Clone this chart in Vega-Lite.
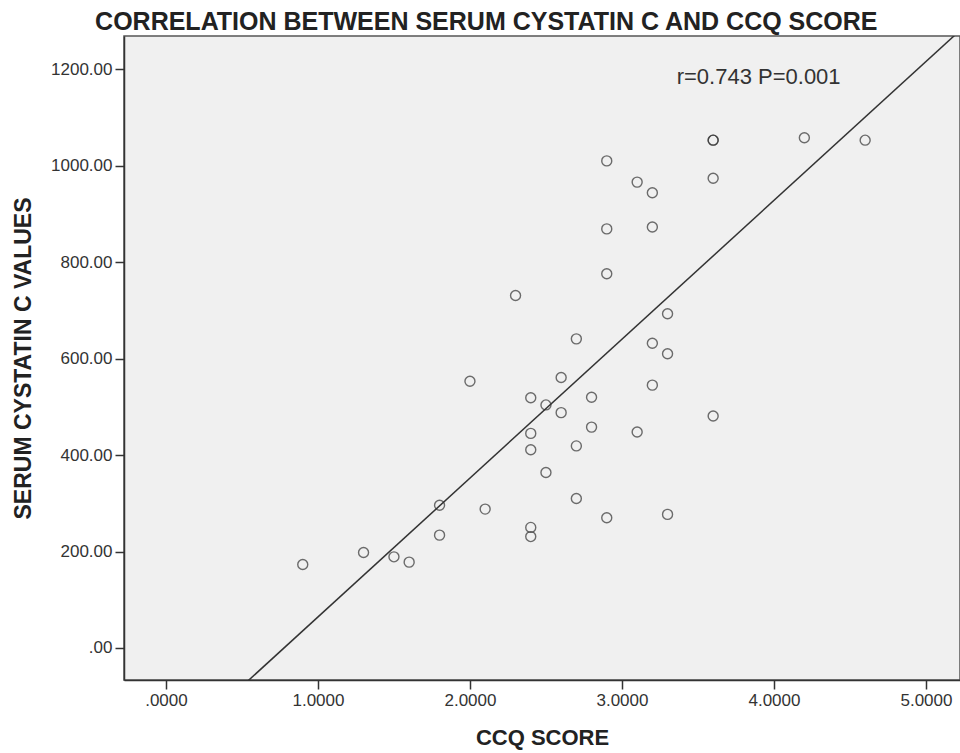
{
  "$schema": "https://vega.github.io/schema/vega-lite/v6.json",
  "width": 836,
  "height": 644,
  "autosize": {"type": "none"},
  "padding": {"left": 124, "top": 36, "right": 0, "bottom": 73},
  "background": "white",
  "config": {
    "font": "Liberation Sans",
    "view": {"fill": "#f0f0f0", "stroke": "#555555", "strokeWidth": 1.5},
    "axis": {
      "grid": false,
      "domainColor": "#333333",
      "domainWidth": 1.5,
      "tickColor": "#333333",
      "tickWidth": 1.5,
      "tickSize": 9,
      "labelPadding": 3,
      "labelFont": "Liberation Sans",
      "labelFontSize": 17,
      "labelColor": "#333333",
      "titleFont": "Liberation Sans",
      "titleFontWeight": "bold",
      "titleColor": "#222222"
    }
  },
  "title": {
    "text": "CORRELATION BETWEEN SERUM CYSTATIN C AND CCQ SCORE",
    "font": "Liberation Sans",
    "fontSize": 25,
    "fontWeight": "bold",
    "color": "#222222",
    "anchor": "middle",
    "frame": "bounds",
    "baseline": "alphabetic",
    "offset": 8,
    "dy": 27
  },
  "datasets": {
    "patients": [
      {"ccq": 0.9, "cystatin": 173},
      {"ccq": 1.3, "cystatin": 198},
      {"ccq": 1.5, "cystatin": 189},
      {"ccq": 1.6, "cystatin": 178},
      {"ccq": 1.8, "cystatin": 296},
      {"ccq": 1.8, "cystatin": 234},
      {"ccq": 2.0, "cystatin": 553},
      {"ccq": 2.1, "cystatin": 288},
      {"ccq": 2.3, "cystatin": 731},
      {"ccq": 2.4, "cystatin": 519},
      {"ccq": 2.4, "cystatin": 445},
      {"ccq": 2.4, "cystatin": 411},
      {"ccq": 2.4, "cystatin": 250},
      {"ccq": 2.4, "cystatin": 231},
      {"ccq": 2.5, "cystatin": 504},
      {"ccq": 2.5, "cystatin": 364},
      {"ccq": 2.6, "cystatin": 561},
      {"ccq": 2.6, "cystatin": 488},
      {"ccq": 2.7, "cystatin": 641},
      {"ccq": 2.7, "cystatin": 419},
      {"ccq": 2.7, "cystatin": 310},
      {"ccq": 2.8, "cystatin": 520},
      {"ccq": 2.8, "cystatin": 458},
      {"ccq": 2.9, "cystatin": 1010},
      {"ccq": 2.9, "cystatin": 869},
      {"ccq": 2.9, "cystatin": 776},
      {"ccq": 2.9, "cystatin": 270},
      {"ccq": 3.1, "cystatin": 966},
      {"ccq": 3.1, "cystatin": 448},
      {"ccq": 3.2, "cystatin": 944},
      {"ccq": 3.2, "cystatin": 873},
      {"ccq": 3.2, "cystatin": 632},
      {"ccq": 3.2, "cystatin": 545},
      {"ccq": 3.3, "cystatin": 693},
      {"ccq": 3.3, "cystatin": 610},
      {"ccq": 3.3, "cystatin": 277},
      {"ccq": 3.6, "cystatin": 1053},
      {"ccq": 3.6, "cystatin": 1053},
      {"ccq": 3.6, "cystatin": 974},
      {"ccq": 3.6, "cystatin": 481},
      {"ccq": 4.2, "cystatin": 1058},
      {"ccq": 4.6, "cystatin": 1053}
    ],
    "fit": [
      {"ccq": 0.5, "cystatin": -79.6},
      {"ccq": 5.25, "cystatin": 1288}
    ],
    "stats": [
      {"ccq": 3.36, "cystatin": 1184, "label": "r=0.743 P=0.001"}
    ]
  },
  "layer": [
    {
      "data": {"name": "fit"},
      "mark": {"type": "line", "color": "#333333", "strokeWidth": 1.5, "clip": true},
      "encoding": {
        "x": {
          "field": "ccq",
          "type": "quantitative",
          "scale": {"domain": [-0.276, 5.224], "nice": false, "zero": false},
          "axis": {
            "values": [0, 1, 2, 3, 4, 5],
            "labelExpr": "datum.value == 0 ? '.0000' : format(datum.value, '.4f')",
            "title": "CCQ SCORE",
            "titleFontSize": 22,
            "titlePadding": 19
          }
        },
        "y": {
          "field": "cystatin",
          "type": "quantitative",
          "scale": {"domain": [-66.4, 1269], "nice": false, "zero": false},
          "axis": {
            "values": [0, 200, 400, 600, 800, 1000, 1200],
            "labelExpr": "datum.value == 0 ? '.00' : format(datum.value, '.2f')",
            "title": "SERUM CYSTATIN C VALUES",
            "titleFontSize": 23,
            "titlePadding": 15
          }
        }
      }
    },
    {
      "data": {"name": "patients"},
      "mark": {"type": "point", "shape": "circle", "filled": false, "stroke": "#333333", "strokeWidth": 1.4, "size": 100},
      "encoding": {
        "x": {"field": "ccq", "type": "quantitative"},
        "y": {"field": "cystatin", "type": "quantitative"}
      }
    },
    {
      "data": {"name": "stats"},
      "mark": {"type": "text", "align": "left", "baseline": "middle", "fontSize": 22, "color": "#333333", "font": "Liberation Sans"},
      "encoding": {
        "x": {"field": "ccq", "type": "quantitative"},
        "y": {"field": "cystatin", "type": "quantitative"},
        "text": {"field": "label"}
      }
    }
  ]
}
